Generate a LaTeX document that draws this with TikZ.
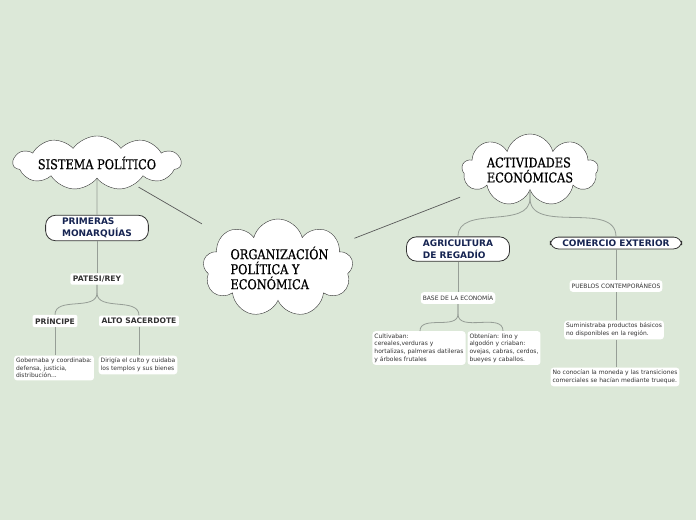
\documentclass[tikz,border=0pt]{standalone}
\usepackage{fontspec}
\usetikzlibrary{shapes.symbols}
\setmainfont{DejaVu Sans}
\newfontfamily\cloudfont[FakeStretch=0.84, FakeBold=0.6]{DejaVu Serif}
\definecolor{bgmint}{RGB}{220,232,216}
\definecolor{navy}{RGB}{22,36,82}
\definecolor{linkgray}{RGB}{150,158,150}
\tikzset{
  cloudnode/.style={cloud, draw=black!80, fill=white,
    font=\cloudfont\fontsize{13.5}{15}\selectfont, align=left, inner sep=0pt},
  mainbox/.style={draw=black!80, fill=white, rounded corners=10pt, thick,
    font=\bfseries\fontsize{9}{11.5}\selectfont, text=navy, align=left,
    inner xsep=16.5pt, inner ysep=3pt},
  tagbox/.style={fill=white, rounded corners=2pt, text=black!80,
    font=\bfseries\fontsize{7.6}{9}\selectfont, inner xsep=2.5pt, inner ysep=2.5pt},
  notebox/.style={fill=white, rounded corners=3pt, text=black!80,
    font=\fontsize{6}{7.6}\selectfont, align=left, inner xsep=2pt, inner ysep=2.5pt},
  link/.style={draw=linkgray, line width=0.8pt},
  bridge/.style={draw=black!65, line width=0.7pt}
}
\begin{document}
\begin{tikzpicture}[x=1pt,y=1pt]
  \fill[bgmint] (0,0) rectangle (696,-520);
  \useasboundingbox (0,0) rectangle (696,-520);

  % clouds
  \node[cloudnode, cloud puffs=11, cloud puff arc=110, aspect=5.6, inner xsep=1pt, inner ysep=-1pt] (sistema) at (97,-163) {SISTEMA POLÍTICO};
  \node[cloudnode, cloud puffs=9, cloud ignores aspect, minimum width=150pt, minimum height=98pt] (central) at (278,-268) {\hspace*{3pt}ORGANIZACIÓN\\\hspace*{3pt}POLÍTICA Y\\\hspace*{3pt}ECONÓMICA};
  \node[cloudnode, cloud puffs=9, cloud ignores aspect, minimum width=136pt, minimum height=72pt] (actividades) at (530,-170) {ACTIVIDADES\\ECONÓMICAS};

  \draw[bridge, shorten <=48pt, shorten >=88pt] (sistema.center) -- (central.center);
  \draw[bridge, shorten <=82pt, shorten >=75pt] (central.center) -- (actividades.center);

  % left branch
  \node[mainbox] (primeras) at (97,-228) {PRIMERAS\\MONARQUÍAS};
  \node[tagbox] (patesi) at (97,-279) {PATESI/REY};
  \node[tagbox] (principe) at (55,-321) {PRÍNCIPE};
  \node[tagbox] (sacerdote) at (139,-321) {ALTO SACERDOTE};
  \node[notebox] (gobernaba) at (54,-368) {Gobernaba y coordinaba:\\defensa, justicia,\\distribución...};
  \node[notebox] (dirigia) at (138,-365) {Dirigía el culto y cuidaba\\los templos y sus bienes};

  \draw[link] (sistema.south) -- (primeras.north);
  \draw[link] (primeras.south) -- (patesi.north);
  \draw[link] (patesi.south) -- ++(0,-8) to[out=-90,in=90] (principe.north);
  \draw[link] (patesi.south) -- ++(0,-8) to[out=-90,in=90] (sacerdote.north);
  \draw[link] (principe.south) -- (gobernaba.north -| principe.south);
  \draw[link] (sacerdote.south) -- (dirigia.north -| sacerdote.south);

  % right branch
  \node[mainbox] (agricultura) at (458,-249) {AGRICULTURA\\DE REGADÍO};
  \node[mainbox, rounded corners=8pt, inner xsep=12pt, inner ysep=2.5pt] (comercio) at (616,-243) {COMERCIO EXTERIOR};
  \node[notebox, font=\fontsize{6}{7}\selectfont, inner ysep=3pt] (base) at (458,-298) {BASE DE LA ECONOMÍA};
  \node[notebox] (cultivaban) at (419,-348) {Cultivaban:\\cereales,verduras y\\hortalizas, palmeras datileras\\y árboles frutales};
  \node[notebox] (obtenian) at (504,-348) {Obtenían: lino y\\algodón y criaban:\\ovejas, cabras, cerdos,\\bueyes y caballos.};
  \node[notebox, font=\fontsize{6}{7}\selectfont, inner ysep=3pt] (pueblos) at (616,-286) {PUEBLOS CONTEMPORÁNEOS};
  \node[notebox] (suministraba) at (614,-330) {Suministraba productos básicos\\no disponibles en la región.};
  \node[notebox] (noconocian) at (615,-377) {No conocían la moneda y las transiciones\\comerciales se hacían mediante trueque.};

  \draw[link] (actividades.south) -- ++(0,-8) to[out=-90,in=90] (agricultura.north);
  \draw[link] (actividades.south) -- ++(0,-8) to[out=-90,in=90] (comercio.north);
  \draw[link] (agricultura.south) -- (base.north);
  \draw[link] (base.south) -- ++(0,-10) to[out=-90,in=90] ([xshift=1pt]cultivaban.north);
  \draw[link] (base.south) -- ++(0,-10) to[out=-90,in=90] ([xshift=-1pt]obtenian.north);
  \draw[link] (comercio.south) -- (pueblos.north);
  \draw[link] (pueblos.south) -- (suministraba.north -| pueblos.south);
  \draw[link] (suministraba.south -| pueblos.south) -- (noconocian.north -| pueblos.south);
\end{tikzpicture}
\end{document}
